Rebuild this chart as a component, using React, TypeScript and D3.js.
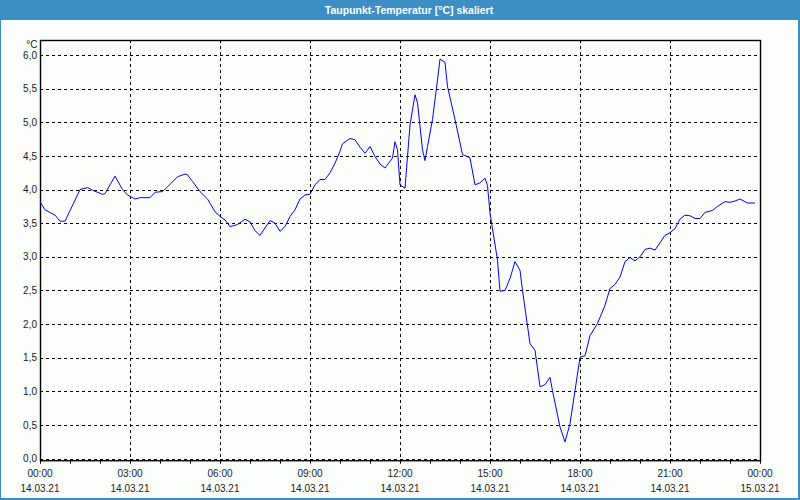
import React from "react";
import * as d3 from "d3";

const title = "Taupunkt-Temperatur [°C] skaliert";
const unitLabel = "°C";

const times: string[] = [
  "00:00","00:10","00:30","00:40","00:50","01:20","01:35","01:45","02:05","02:10",
  "02:30","02:45","02:55","03:10","03:20","03:40","03:50","04:05","04:15","04:35",
  "04:50","04:55","05:05","05:20","05:35","05:50","06:00","06:10","06:20","06:35",
  "06:50","07:00","07:10","07:20","07:40","07:50","08:00","08:10","08:20","08:30",
  "08:40","08:50","09:00","09:10","09:20","09:30","09:40","09:50","10:00","10:05",
  "10:20","10:30","10:40","10:50","11:00","11:10","11:20","11:30","11:45","11:50",
  "11:55","12:00","12:10","12:20","12:30","12:35","12:45","12:50","12:55","13:05",
  "13:15","13:20","13:30","13:35","13:50","14:05","14:15","14:20","14:30","14:40",
  "14:50","14:55","15:00","15:15","15:20","15:30","15:40","15:50","16:00","16:05",
  "16:20","16:30","16:40","16:50","17:00","17:05","17:20","17:30","17:40","17:50",
  "18:00","18:10","18:20","18:35","18:50","19:00","19:10","19:20","19:30","19:40",
  "19:50","20:00","20:10","20:20","20:30","20:40","20:50","21:00","21:10","21:20",
  "21:30","21:40","21:50","22:00","22:10","22:25","22:35","22:50","23:00","23:10",
  "23:20","23:30","23:35","23:50"
];

const values: number[] = [
  3.82,3.70,3.62,3.53,3.53,4.00,4.03,3.99,3.93,3.94,
  4.20,4.00,3.92,3.86,3.88,3.88,3.96,3.97,4.04,4.19,
  4.23,4.22,4.12,3.97,3.86,3.67,3.60,3.55,3.45,3.48,
  3.56,3.52,3.39,3.32,3.54,3.50,3.38,3.45,3.60,3.70,
  3.86,3.92,3.93,4.07,4.15,4.15,4.25,4.39,4.57,4.68,
  4.76,4.74,4.63,4.54,4.64,4.49,4.38,4.32,4.47,4.71,
  4.59,4.07,4.02,4.96,5.41,5.29,4.59,4.43,4.64,5.04,
  5.63,5.94,5.89,5.53,5.04,4.52,4.49,4.47,4.07,4.10,
  4.17,4.06,3.65,2.95,2.49,2.50,2.68,2.93,2.80,2.50,
  1.71,1.61,1.07,1.10,1.21,1.01,0.47,0.25,0.52,1.01,
  1.51,1.53,1.83,2.01,2.28,2.53,2.59,2.70,2.93,2.99,
  2.94,3.00,3.11,3.13,3.10,3.21,3.32,3.36,3.42,3.56,
  3.62,3.61,3.57,3.57,3.66,3.69,3.75,3.82,3.81,3.83,
  3.86,3.82,3.80,3.80
];

const yTicks: number[] = [0, 0.5, 1, 1.5, 2, 2.5, 3, 3.5, 4, 4.5, 5, 5.5, 6];
const xTickTimes: string[] = ["00:00","03:00","06:00","09:00","12:00","15:00","18:00","21:00","00:00"];
const xTickDates: string[] = ["14.03.21","14.03.21","14.03.21","14.03.21","14.03.21","14.03.21","14.03.21","14.03.21","15.03.21"];

const W = 800, H = 500;
const left = 40, right = 760, top = 40, bottom = 460.7;
const font = "'Liberation Sans', Arial, sans-serif";

function toMinutes(t: string) {
  const [h, m] = t.split(":").map(Number);
  return h * 60 + m;
}

export default function App() {
  const x = d3.scaleLinear().domain([0, 1440]).range([left, right]);
  const y = d3.scaleLinear().domain([0, 6]).range([458.7, 55]);
  const data = times.map((t, i) => ({ m: toMinutes(t), v: values[i] }));
  const line = d3.line<{ m: number; v: number }>().x(d => x(d.m)).y(d => y(d.v));
  const majorTicks = d3.range(0, 1441, 180);
  const hourTicks = d3.range(0, 1441, 60);
  const fmt = (v: number) => d3.format(".1f")(v).replace(".", ",");
  const fs = 10;

  return (
    <svg width={W} height={H} style={{ position: "absolute", left: 0, top: 0 }}>
      <rect x={0} y={0} width={W} height={H} fill="#3c8ec5" />
      <rect x={1} y={20} width={W - 3} height={H - 22} fill="#fcfefc" />
      <text x={409} y={13.5} fill="#ffffff" fontFamily={font} fontWeight="bold" fontSize={10.5} textAnchor="middle">{title}</text>

      {yTicks.map(t => (
        <line key={"h" + t} x1={left} x2={right} y1={Math.round(y(t)) + 0.5} y2={Math.round(y(t)) + 0.5}
          stroke="#000" strokeWidth={1} strokeDasharray="3,3" />
      ))}
      {majorTicks.slice(1, -1).map(t => (
        <line key={"v" + t} x1={Math.round(x(t)) + 0.5} x2={Math.round(x(t)) + 0.5} y1={top} y2={bottom}
          stroke="#000" strokeWidth={1} strokeDasharray="3,3" />
      ))}
      {hourTicks.map(t => (
        <line key={"t" + t} x1={Math.round(x(t)) + 0.5} x2={Math.round(x(t)) + 0.5} y1={bottom} y2={bottom + 3}
          stroke="#000" strokeWidth={1} />
      ))}
      <rect x={left + 0.5} y={top + 0.5} width={right - left} height={bottom - top - 0.5}
        fill="none" stroke="#000" strokeWidth={1.4} />

      <path d={line(data) || ""} fill="none" stroke="#0000ff" strokeWidth={1} />

      {yTicks.map(t => (
        <text key={"yl" + t} x={37} y={y(t) + 3.6} fontFamily={font} fontSize={fs} fill="#1a1a1a" textAnchor="end">{fmt(t)}</text>
      ))}
      <text x={37.5} y={47.5} fontFamily={font} fontSize={fs} fill="#1a1a1a" textAnchor="end">{unitLabel}</text>

      {majorTicks.map((t, i) => (
        <g key={"xl" + t}>
          <text x={x(t)} y={477} fontFamily={font} fontSize={fs} fill="#1a1a1a" textAnchor="middle">{xTickTimes[i]}</text>
          <text x={x(t)} y={492} fontFamily={font} fontSize={fs} fill="#1a1a1a" textAnchor="middle">{xTickDates[i]}</text>
        </g>
      ))}
    </svg>
  );
}
